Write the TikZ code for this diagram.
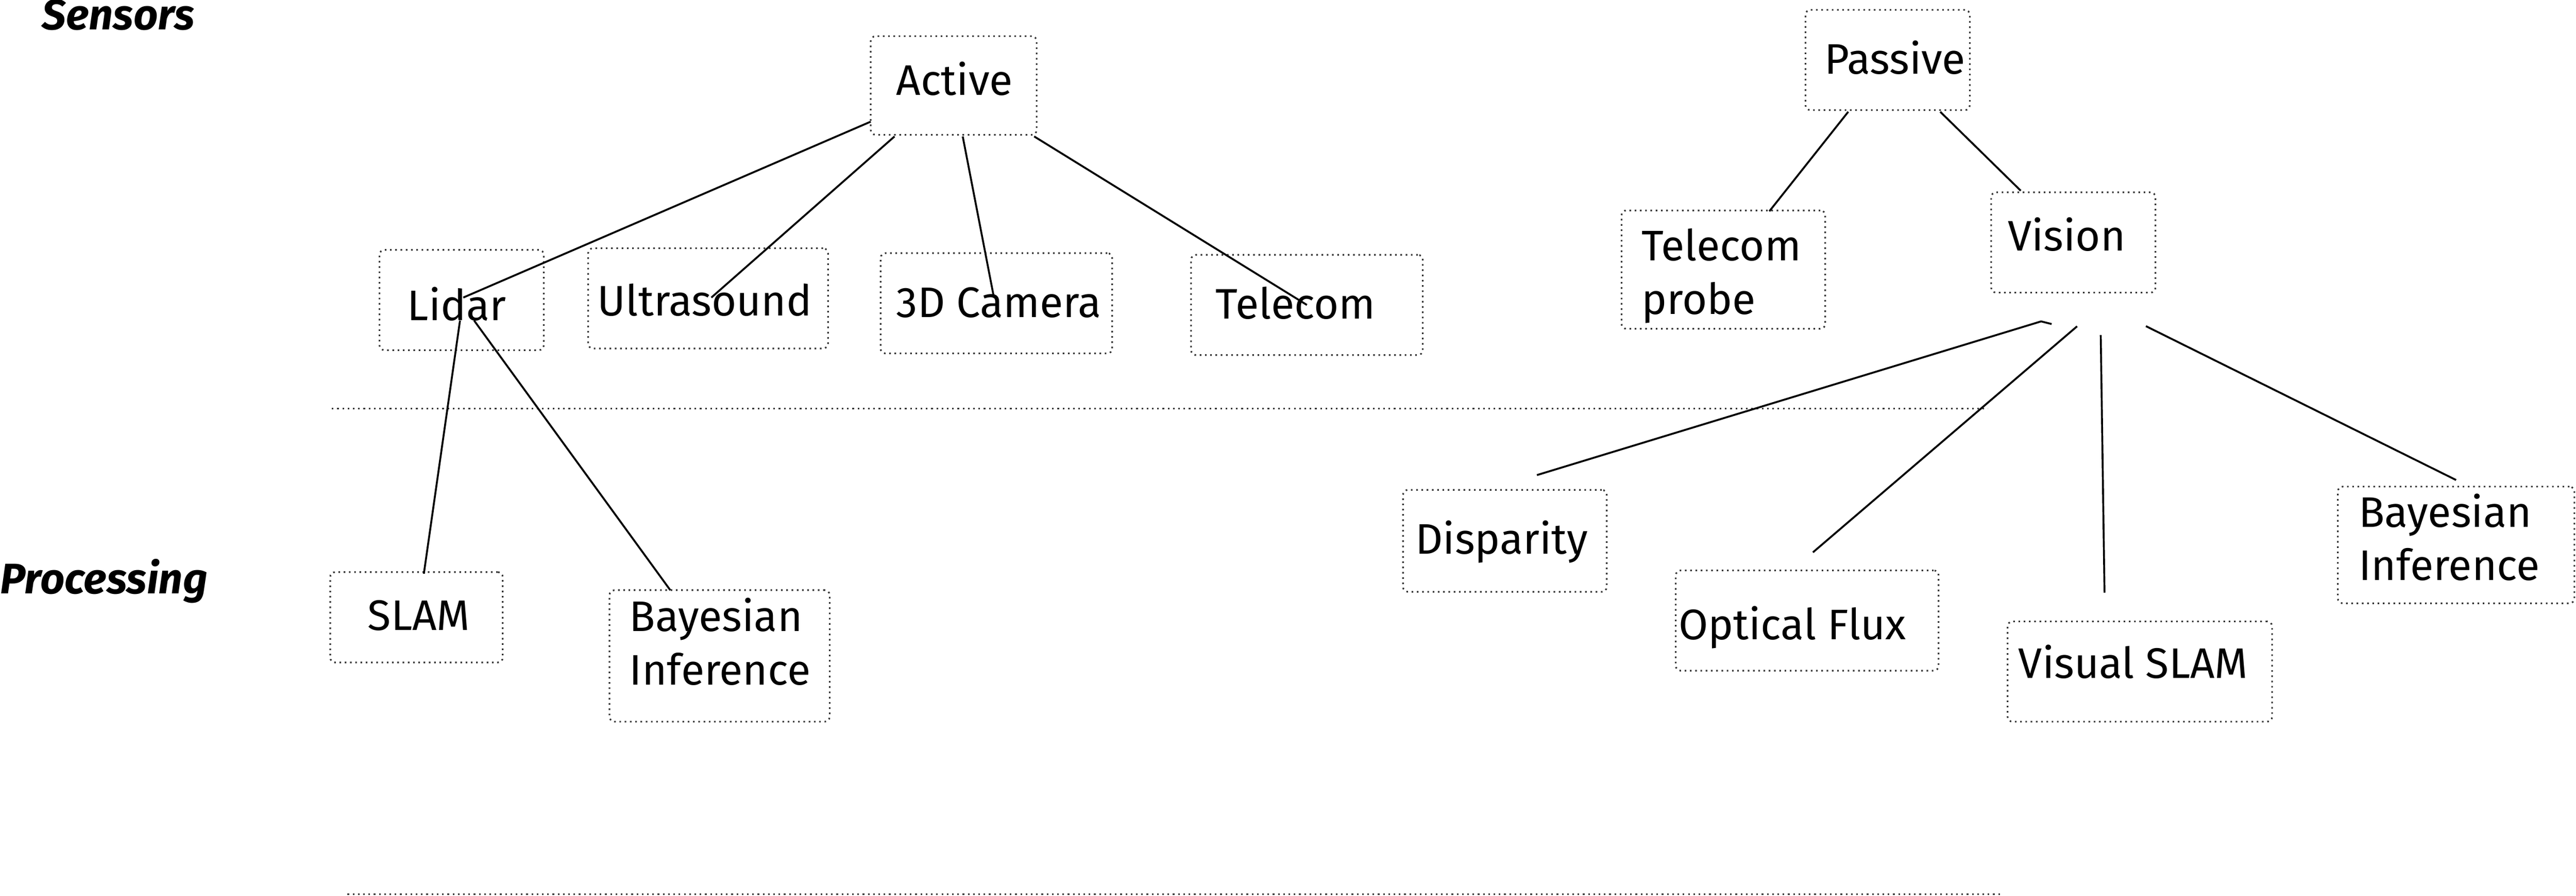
\documentclass[tikz,border=0pt]{standalone}
\usepackage{fontspec}
\setmainfont{Fira Sans}
\begin{document}
\begin{tikzpicture}[x=1pt,y=-1pt,
  box/.style={draw=black!80, line width=1pt, dash pattern=on 1pt off 2.2pt, rounded corners=3pt, inner sep=0pt},
  lbl/.style={font=\fontsize{26}{32.5}\selectfont, inner sep=0pt, anchor=base},
  mlbl/.style={font=\fontsize{26}{32.5}\selectfont, inner sep=0pt, anchor=base west, align=left},
  hdr/.style={font=\fontsize{26}{30}\selectfont\bfseries\itshape, inner sep=0pt, anchor=base west},
  link/.style={line width=1.15pt, black},
  sep/.style={draw=black!80, line width=1pt, dash pattern=on 1pt off 2.2pt}]
\useasboundingbox (0,0) rectangle (1568,545);

% headers
\node[hdr] (hsens) at (25.5,18) {Sensors};
\node[hdr] (hproc) at (0,361) {Processing};

% boxes
\node[box, minimum width=101pt, minimum height=60pt] (active) at (580.5,52) {};
\node[box, minimum width=100pt, minimum height=61pt] (passive) at (1149,36.5) {};
\node[box, minimum width=100pt, minimum height=61pt] (lidar) at (281,182.5) {};
\node[box, minimum width=146pt, minimum height=61pt] (ultra) at (431,181.5) {};
\node[box, minimum width=141pt, minimum height=61pt] (cam) at (606.5,184.5) {};
\node[box, minimum width=141pt, minimum height=61pt] (telecom) at (795.5,185.5) {};
\node[box, minimum width=124pt, minimum height=72pt] (probe) at (1049,164) {};
\node[box, minimum width=100pt, minimum height=61pt] (vision) at (1262,147.5) {};
\node[box, minimum width=124pt, minimum height=62pt] (disp) at (916,329) {};
\node[box, minimum width=160pt, minimum height=61pt] (flux) at (1100,377.5) {};
\node[box, minimum width=161pt, minimum height=61pt] (vslam) at (1302.5,408.5) {};
\node[box, minimum width=144pt, minimum height=71pt] (bayesR) at (1495,331.5) {};
\node[box, minimum width=105pt, minimum height=55pt] (slam) at (253.5,375.5) {};
\node[box, minimum width=134pt, minimum height=80pt] (bayesL) at (438,399) {};

% texts
\node[lbl] (tactive) at (581,58) {Active};
\node[lbl] (tpassive) at (1153.5,45) {Passive};
\node[lbl] (tlidar) at (278,195) {Lidar};
\node[lbl] (tultra) at (429,192) {Ultrasound};
\node[lbl] (tcam) at (608,193) {3D Camera};
\node[lbl] (ttelecom) at (788.6,194) {Telecom};
\node[mlbl] (tprobe) at (999,191) {Telecom\\probe};
\node[lbl] (tvision) at (1258,152.5) {Vision};
\node[lbl] (tdisp) at (914,337) {Disparity};
\node[lbl] (tflux) at (1091,389) {Optical Flux};
\node[lbl] (tvslam) at (1298.5,412.5) {Visual SLAM};
\node[mlbl] (tbayesR) at (1435.5,353) {Bayesian\\Inference};
\node[lbl] (tslam) at (255,383.5) {SLAM};
\node[mlbl] (tbayesL) at (383,416.5) {Bayesian\\Inference};

% separators
\coordinate (s1a) at (202,248.5);
\coordinate (s1b) at (1210,248.5);
\coordinate (s2a) at (211.5,544);
\coordinate (s2b) at (1219,544);
\draw[sep] (s1a) -- (s1b);
\draw[sep] (s2a) -- (s2b);

% connectors
\draw[link] ([shift={(-50.5,22)}]active.center) -- ([shift={(1,-1.5)}]lidar.center);
\draw[link] ([shift={(-36,31)}]active.center) -- ([shift={(2,-0.5)}]ultra.center);
\draw[link] ([shift={(5.5,31)}]active.center) -- ([shift={(-1.5,-3.5)}]cam.center);
\draw[link] ([shift={(49,31)}]active.center) -- ([shift={(0,0)}]telecom.center);
\draw[link] ([shift={(-1,12.5)}]lidar.center) -- ([shift={(4.5,-26.5)}]slam.center);
\draw[link] ([shift={(7.6,12.5)}]lidar.center) -- ([shift={(-30,-40)}]bayesL.center);
\draw[link] ([shift={(-24,31.5)}]passive.center) -- ([shift={(28,-35.5)}]probe.center);
\draw[link] ([shift={(32,31.5)}]passive.center) -- ([shift={(-32,-31.5)}]vision.center);
\draw[link] ([shift={(-13.2,49.6)}]vision.center) -- ([shift={(-19.6,48)}]vision.center) -- ([shift={(19.5,-40)}]disp.center);
\draw[link] ([shift={(2.3,51)}]vision.center) -- ([shift={(3.5,-41.5)}]flux.center);
\draw[link] ([shift={(16.7,56.3)}]vision.center) -- ([shift={(-21.5,-48)}]vslam.center);
\draw[link] ([shift={(44.2,50.9)}]vision.center) -- ([shift={(0,-39.5)}]bayesR.center);
\end{tikzpicture}
\end{document}
